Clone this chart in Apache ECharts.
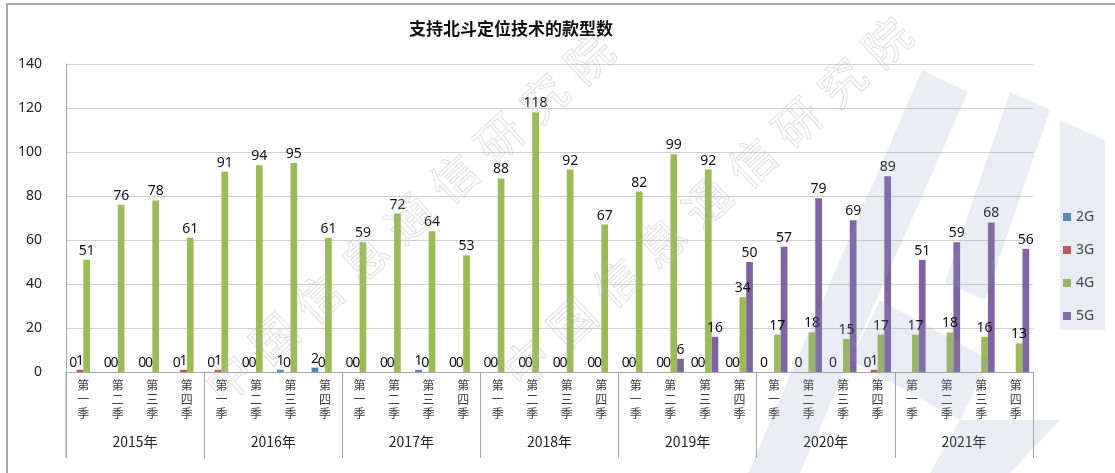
<!DOCTYPE html>
<html>
<head>
<meta charset="utf-8">
<script src="https://cdn.jsdelivr.net/npm/echarts@6/dist/echarts.min.js"></script>
<style>html,body{margin:0;padding:0;background:#fff;}#c{width:1115px;height:473px;}</style>
</head>
<body>
<div id="c"></div>
<script>
const quarterNames = ['第一季','第二季','第三季','第四季'];
const years = ['2015年','2016年','2017年','2018年','2019年','2020年','2021年'];
const seriesNames = ['2G','3G','4G','5G'];
const yTicks = [0,20,40,60,80,100,120,140];
const s2G = [0,0,0,0, 0,0,1,2, 0,0,1,0, 0,0,0,0, 0,0,0,0, 0,0,0,0, null,null,null,null];
const s3G = [1,0,0,1, 1,0,0,0, 0,0,0,0, 0,0,0,0, 0,0,0,0, null,null,null,1, null,null,null,null];
const s4G = [51,76,78,61, 91,94,95,61, 59,72,64,53, 88,118,92,67, 82,99,92,34, 17,18,15,17, 17,18,16,13];
const s5G = [null,null,null,null, null,null,null,null, null,null,null,null, null,null,null,null, null,6,16,50, 57,79,69,89, 51,59,68,56];
const watermarkText = '中国信息通信研究院';

const categories = [];
years.forEach(function(y){ quarterNames.forEach(function(q){ categories.push(y + q); }); });
const colors = ['#4F81BD','#C0504D','#9BBB59','#8064A2'];
const font = "'Noto Sans', 'Noto Sans CJK SC', sans-serif";
const cjk = "'Noto Sans CJK SC', sans-serif";

const chart = echarts.init(document.getElementById('c'), null, {renderer:'canvas'});
const dataArr = [s2G, s3G, s4G, s5G];
const series = seriesNames.map(function(n, i){
  return {
    name: n, type: 'bar', xAxisIndex: 0, yAxisIndex: 0,
    data: dataArr[i],
    barGap: '0%', barCategoryGap: '22%',
    itemStyle: {color: colors[i]},
    label: {show: true, position: 'top', distance: 2, color: '#111', fontSize: 14, fontFamily: font,
      formatter: function(p){ return p.value == null ? '' : String(p.value); }}
  };
});

// watermark glyphs (decoration)
const graphics = [];
const rot = 43 * Math.PI / 180;
function addWatermark(cx, cy) {
  watermarkText.split('').forEach(function(ch, k){
    graphics.push({type: 'text', x: cx + 45 * k, y: cy - 40 * k, rotation: rot, z: 60, silent: true,
      style: {text: ch, fontSize: 46, fontFamily: cjk, fill: 'rgba(255,255,255,0)', stroke: 'rgba(185,185,185,0.45)', lineWidth: 1,
        align: 'center', verticalAlign: 'middle'}});
  });
}
addWatermark(229, 378);
addWatermark(527, 362);
const logoFill = 'rgba(140,150,190,0.18)';
const logoPolys = [
  [[922,70],[968,92],[800,473],[748,473]],
  [[1010,92],[1050,110],[985,300],[945,282]],
  [[1060,120],[1105,140],[1105,330],[1060,330]],
  [[880,300],[990,360],[960,420],[850,360]],
  [[960,420],[1060,420],[1010,473],[930,473]]
];
logoPolys.forEach(function(p){
  graphics.push({type: 'polygon', shape: {points: p}, style: {fill: logoFill}, z: 55, silent: true});
});
graphics.push({type: 'rect', shape: {x: 7, y: 4, width: 1200, height: 600}, style: {fill: 'none', stroke: '#a6a6a6', lineWidth: 2}, z: 100, silent: true});
graphics.push({type: 'line', shape: {x1: 66, y1: 372, x2: 66, y2: 458}, style: {stroke: '#a6a6a6', lineWidth: 1}, z: 50});

chart.setOption({
  animation: false,
  backgroundColor: '#fff',
  title: {text: '支持北斗定位技术的款型数', left: 404, top: 15,
    textStyle: {fontSize: 17, fontWeight: 'bold', color: '#111', fontFamily: cjk}},
  legend: {orient: 'vertical', left: 1058, top: 205, itemWidth: 8, itemHeight: 8, itemGap: 19,
    icon: 'rect', data: seriesNames, textStyle: {fontSize: 14, color: '#333', fontFamily: font}},
  grid: {left: 66, right: 82, top: 64, bottom: 101, containLabel: false},
  xAxis: [
    {type: 'category', data: categories, position: 'bottom',
      axisLine: {show: true, lineStyle: {color: '#a6a6a6'}},
      axisTick: {show: false},
      axisLabel: {interval: 0, margin: 6, color: '#404040', fontSize: 12, lineHeight: 14, fontFamily: cjk,
        formatter: function(v){ return v.slice(-3).split('').join('\n'); }}},
    {type: 'category', data: years, position: 'bottom', gridIndex: 0,
      axisLine: {show: false},
      axisTick: {show: true, length: 86, interval: 0, lineStyle: {color: '#a6a6a6'}},
      axisLabel: {interval: 0, margin: 63, color: '#222', fontSize: 14, fontFamily: cjk}}
  ],
  yAxis: {type: 'value', min: yTicks[0], max: yTicks[yTicks.length-1], interval: 20,
    axisLine: {show: true, lineStyle: {color: '#a6a6a6'}},
    axisTick: {show: false},
    axisLabel: {color: '#222', fontSize: 14, margin: 24, fontFamily: font},
    splitLine: {lineStyle: {color: '#d0d0d0'}}},
  graphic: graphics,
  series: series
});
</script>
</body>
</html>
